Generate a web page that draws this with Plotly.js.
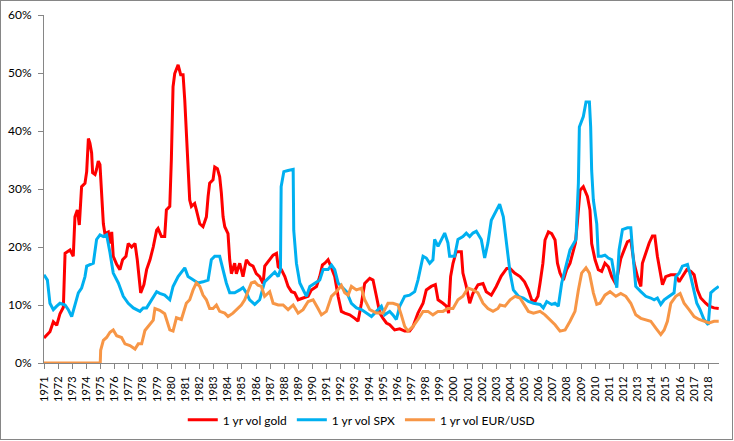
<!DOCTYPE html>
<html>
<head>
<meta charset="utf-8">
<script src="https://cdn.plot.ly/plotly-3.0.1.min.js"></script>
<style>
html,body{margin:0;padding:0;background:#fff;}
#wrap{position:relative;width:734px;height:441px;}
#chart{width:734px;height:441px;}
#frame{position:absolute;left:0;top:0;width:731px;height:438px;border:1px solid #868686;pointer-events:none;}
</style>
</head>
<body>
<div id="wrap"><div id="chart"></div><div id="frame"></div></div>
<script>
// [year, volatility %]
const goldSeries = [[1971.00,4.3],[1971.42,5.4],[1971.66,7.1],[1971.90,6.5],[1972.13,8.5],[1972.37,9.6],[1972.49,18.9],[1972.84,19.5],[1973.07,18.4],[1973.19,25.2],[1973.36,26.4],[1973.50,23.8],[1973.66,30.4],[1973.90,31.0],[1974.02,33.0],[1974.14,38.7],[1974.25,37.9],[1974.37,36.2],[1974.44,32.8],[1974.61,32.5],[1974.72,33.4],[1974.84,34.8],[1974.96,34.2],[1975.08,28.7],[1975.20,24.0],[1975.31,22.3],[1975.55,22.6],[1975.67,20.6],[1975.79,22.6],[1975.90,18.4],[1976.14,17.0],[1976.37,16.1],[1976.56,17.8],[1976.80,18.4],[1976.96,20.6],[1977.20,20.0],[1977.44,20.6],[1977.60,17.8],[1977.74,15.0],[1977.84,12.1],[1978.07,13.5],[1978.26,16.1],[1978.50,17.8],[1978.73,20.0],[1978.97,22.9],[1979.07,23.2],[1979.31,21.8],[1979.54,21.8],[1979.66,26.4],[1979.90,27.0],[1980.01,35.0],[1980.13,47.6],[1980.25,49.9],[1980.49,51.4],[1980.67,49.7],[1980.84,49.7],[1980.96,45.3],[1981.07,39.0],[1981.19,33.8],[1981.31,28.1],[1981.43,27.0],[1981.66,27.5],[1981.78,26.4],[1982.02,24.0],[1982.25,23.5],[1982.49,25.2],[1982.61,28.7],[1982.72,31.0],[1982.96,31.6],[1983.08,33.8],[1983.27,33.5],[1983.43,32.1],[1983.55,29.3],[1983.67,25.2],[1983.79,23.5],[1984.02,22.3],[1984.14,17.8],[1984.26,15.4],[1984.49,17.2],[1984.61,15.4],[1984.85,17.2],[1985.08,14.9],[1985.32,17.8],[1985.55,17.0],[1985.79,16.7],[1986.02,15.4],[1986.26,14.9],[1986.50,13.7],[1986.62,16.7],[1986.97,17.8],[1987.21,18.6],[1987.45,18.9],[1987.57,16.6],[1987.80,16.1],[1988.04,14.9],[1988.27,13.2],[1988.51,12.3],[1988.74,12.1],[1988.98,10.9],[1989.33,11.2],[1989.69,11.5],[1989.92,12.6],[1990.28,13.2],[1990.51,14.9],[1990.70,16.9],[1990.87,17.2],[1991.10,17.8],[1991.34,16.4],[1991.57,14.9],[1991.81,11.5],[1992.04,8.9],[1992.28,8.6],[1992.63,8.3],[1992.99,7.7],[1993.22,7.2],[1993.46,10.3],[1993.69,13.7],[1994.05,14.6],[1994.28,14.3],[1994.52,11.5],[1994.76,8.6],[1994.99,7.7],[1995.23,6.9],[1995.46,6.6],[1995.81,5.7],[1996.17,5.9],[1996.52,5.5],[1996.87,5.5],[1997.11,6.3],[1997.46,8.6],[1997.82,10.3],[1998.05,12.6],[1998.40,13.2],[1998.69,13.5],[1998.88,10.9],[1999.23,10.3],[1999.47,9.8],[1999.63,8.6],[1999.77,14.9],[1999.94,17.2],[2000.17,19.2],[2000.53,19.2],[2000.64,15.5],[2000.88,13.2],[2001.12,10.3],[2001.35,12.0],[2001.71,13.5],[2002.06,13.7],[2002.29,12.3],[2002.65,11.7],[2003.00,13.2],[2003.35,15.0],[2003.74,16.3],[2003.98,16.3],[2004.30,15.5],[2004.68,14.9],[2005.00,14.0],[2005.27,12.6],[2005.50,10.9],[2005.74,10.6],[2005.95,11.5],[2006.10,13.8],[2006.30,17.2],[2006.45,21.2],[2006.69,22.6],[2006.92,22.3],[2007.16,21.2],[2007.33,17.2],[2007.51,15.5],[2007.75,14.3],[2007.98,16.1],[2008.22,17.2],[2008.46,19.5],[2008.60,20.7],[2008.74,24.3],[2008.93,29.8],[2009.16,30.4],[2009.45,28.7],[2009.63,26.4],[2009.75,20.6],[2009.99,17.8],[2010.22,16.1],[2010.46,15.8],[2010.69,17.2],[2010.93,16.6],[2011.17,14.9],[2011.46,13.6],[2011.81,18.0],[2012.05,19.5],[2012.28,20.9],[2012.52,21.2],[2012.75,17.2],[2012.99,14.9],[2013.23,13.2],[2013.34,17.2],[2013.58,19.0],[2013.82,20.7],[2014.05,21.9],[2014.22,21.9],[2014.40,18.4],[2014.59,16.1],[2014.76,13.5],[2014.99,14.9],[2015.35,15.2],[2015.70,15.2],[2015.94,14.0],[2016.17,14.9],[2016.48,16.1],[2016.76,15.8],[2017.00,15.2],[2017.23,12.6],[2017.47,11.2],[2017.82,10.3],[2018.06,9.8],[2018.41,9.5],[2018.74,9.4]];

const spxSeries = [[1971.00,15.2],[1971.24,14.3],[1971.42,10.3],[1971.66,9.2],[1971.90,9.8],[1972.13,10.3],[1972.49,10.0],[1972.72,9.2],[1972.96,8.0],[1973.19,9.8],[1973.43,12.1],[1973.66,12.9],[1973.90,14.9],[1974.02,16.7],[1974.25,17.0],[1974.49,17.2],[1974.72,21.3],[1974.96,22.1],[1975.20,21.8],[1975.43,22.1],[1975.67,19.0],[1975.90,15.5],[1976.26,13.8],[1976.61,11.5],[1976.96,10.3],[1977.32,9.5],[1977.79,8.9],[1978.02,9.5],[1978.26,9.5],[1978.61,10.9],[1978.97,12.3],[1979.19,12.0],[1979.54,11.7],[1979.90,10.9],[1980.13,13.2],[1980.49,14.9],[1980.84,16.1],[1980.96,16.4],[1981.19,14.9],[1981.55,14.3],[1981.90,13.8],[1982.25,14.0],[1982.61,14.3],[1982.84,17.8],[1983.08,18.4],[1983.43,18.4],[1983.67,16.1],[1983.90,13.8],[1984.14,12.1],[1984.49,12.1],[1984.85,12.6],[1985.08,13.0],[1985.32,12.1],[1985.55,10.9],[1985.91,10.1],[1986.26,10.9],[1986.61,14.0],[1986.97,14.9],[1987.33,15.7],[1987.57,14.9],[1987.73,16.1],[1987.78,30.4],[1987.97,33.0],[1988.27,33.2],[1988.63,33.4],[1988.67,22.9],[1988.86,17.2],[1989.10,13.8],[1989.33,12.6],[1989.57,11.5],[1989.81,13.2],[1990.16,13.8],[1990.51,14.3],[1990.75,16.1],[1991.10,16.1],[1991.34,16.9],[1991.57,16.1],[1991.81,13.8],[1992.04,13.2],[1992.40,12.3],[1992.75,10.3],[1993.11,9.5],[1993.46,9.2],[1993.81,8.6],[1994.17,8.0],[1994.52,8.9],[1994.87,9.8],[1995.10,8.3],[1995.46,8.9],[1995.69,8.3],[1995.93,7.5],[1996.17,9.8],[1996.52,11.5],[1996.87,11.7],[1997.23,12.3],[1997.46,14.3],[1997.70,16.7],[1997.82,18.4],[1998.05,18.1],[1998.29,17.2],[1998.52,17.8],[1998.64,21.3],[1998.88,20.1],[1999.11,21.3],[1999.35,22.4],[1999.58,20.7],[1999.70,18.4],[2000.05,18.4],[2000.29,21.3],[2000.64,21.8],[2000.88,22.4],[2001.12,21.8],[2001.35,22.4],[2001.59,22.7],[2001.94,21.3],[2002.18,18.1],[2002.41,20.7],[2002.65,24.6],[2002.88,25.7],[2003.24,27.4],[2003.50,25.2],[2003.74,20.1],[2003.98,15.5],[2004.21,12.6],[2004.57,11.5],[2004.92,11.2],[2005.27,10.6],[2005.63,10.3],[2006.10,10.1],[2006.33,9.5],[2006.57,10.6],[2006.92,10.1],[2007.16,10.3],[2007.39,9.8],[2007.63,13.8],[2007.87,16.1],[2008.22,19.5],[2008.50,20.7],[2008.64,21.3],[2008.81,31.0],[2008.88,40.7],[2009.16,42.5],[2009.35,45.0],[2009.59,45.0],[2009.68,40.7],[2009.75,33.2],[2009.87,28.1],[2010.11,24.0],[2010.22,18.4],[2010.46,18.4],[2010.69,18.6],[2010.93,18.1],[2011.17,17.8],[2011.40,14.5],[2011.53,13.0],[2011.69,19.5],[2011.93,23.0],[2012.28,23.3],[2012.52,23.3],[2012.64,19.5],[2012.87,13.2],[2013.23,12.3],[2013.58,11.5],[2013.93,11.2],[2014.17,10.9],[2014.40,11.2],[2014.64,10.1],[2014.88,10.9],[2015.23,11.5],[2015.58,12.1],[2015.70,14.9],[2015.94,15.5],[2016.17,16.7],[2016.53,17.0],[2016.76,14.9],[2017.00,12.6],[2017.19,10.3],[2017.42,9.2],[2017.70,7.5],[2018.00,6.6],[2018.18,12.1],[2018.41,12.6],[2018.74,13.2]];

const eurusdSeries = [[1971.00,0],[1974.98,0],[1975.01,2.2],[1975.20,3.9],[1975.43,4.4],[1975.67,5.3],[1975.90,5.7],[1976.14,4.7],[1976.49,4.4],[1976.73,3.3],[1977.08,3.0],[1977.44,2.4],[1977.67,3.3],[1977.91,3.3],[1978.14,5.6],[1978.50,6.8],[1978.73,7.4],[1978.85,9.4],[1979.19,9.1],[1979.54,8.5],[1979.90,5.7],[1980.13,5.5],[1980.37,7.8],[1980.72,7.5],[1981.07,10.3],[1981.31,10.9],[1981.55,12.6],[1981.78,13.8],[1982.02,13.2],[1982.25,11.7],[1982.49,10.9],[1982.72,9.4],[1982.96,9.4],[1983.20,10.0],[1983.43,8.9],[1983.79,8.6],[1984.02,8.0],[1984.37,8.6],[1984.73,9.4],[1984.96,10.0],[1985.20,10.9],[1985.44,12.3],[1985.67,13.8],[1985.91,14.0],[1986.14,13.4],[1986.38,13.2],[1986.61,11.5],[1986.97,12.3],[1987.21,10.3],[1987.57,10.0],[1987.92,10.0],[1988.27,9.2],[1988.63,10.0],[1988.98,8.6],[1989.33,9.2],[1989.69,10.6],[1990.04,10.9],[1990.39,9.4],[1990.63,8.3],[1990.98,8.9],[1991.34,11.5],[1991.69,12.3],[1992.04,13.4],[1992.28,12.1],[1992.52,11.7],[1992.75,13.2],[1993.11,12.6],[1993.46,12.9],[1993.69,10.9],[1994.05,9.2],[1994.52,8.6],[1994.99,8.6],[1995.34,10.3],[1995.69,10.3],[1996.05,10.0],[1996.28,8.3],[1996.52,6.3],[1996.75,5.5],[1997.11,6.3],[1997.46,7.5],[1997.82,8.9],[1998.17,8.9],[1998.52,8.3],[1998.88,8.9],[1999.23,8.9],[1999.58,9.4],[1999.94,9.4],[2000.29,10.9],[2000.64,11.5],[2001.00,12.9],[2001.35,12.6],[2001.70,12.1],[2002.06,10.3],[2002.41,9.4],[2002.77,8.9],[2003.12,9.4],[2003.27,10.0],[2003.62,9.8],[2003.98,10.9],[2004.33,11.5],[2004.68,11.2],[2005.04,9.8],[2005.27,8.9],[2005.63,8.6],[2006.10,8.9],[2006.45,8.3],[2006.81,7.5],[2007.16,6.6],[2007.51,5.5],[2007.87,5.7],[2008.22,7.2],[2008.57,8.9],[2008.81,12.6],[2009.04,15.5],[2009.35,16.4],[2009.59,15.5],[2009.87,12.1],[2010.11,10.1],[2010.34,10.3],[2010.69,11.7],[2011.05,12.3],[2011.46,11.5],[2011.81,12.0],[2012.17,11.5],[2012.52,10.3],[2012.87,8.3],[2013.23,7.7],[2013.58,7.5],[2013.93,7.2],[2014.29,6.0],[2014.64,4.9],[2014.88,5.7],[2015.11,7.2],[2015.35,10.3],[2015.70,11.5],[2016.01,12.0],[2016.29,10.3],[2016.64,9.2],[2017.00,8.0],[2017.35,7.5],[2017.70,7.2],[2018.06,6.9],[2018.41,7.2],[2018.74,7.2]];

const seriesNames = ['1 yr vol gold', '1 yr vol SPX', '1 yr vol EUR/USD'];
const seriesColors = ['#FF0000', '#00B0F0', '#F79646'];
const yearTicks = [];
for (let y = 1971; y <= 2018; y++) yearTicks.push(y);
const yTicks = [0, 10, 20, 30, 40, 50, 60];

const allSeries = [goldSeries, spxSeries, eurusdSeries];
const traces = allSeries.map((s, i) => ({
  type: 'scatter', mode: 'lines',
  x: s.map(p => p[0]), y: s.map(p => p[1]),
  name: seriesNames[i],
  line: {color: seriesColors[i], width: 3},
  hoverinfo: 'x+y'
}));

const layout = {
  width: 734, height: 441,
  margin: {l: 44, r: 15, t: 15, b: 78},
  paper_bgcolor: '#fff', plot_bgcolor: '#fff',
  font: {family: 'Lato, "Open Sans", sans-serif', color: '#000', size: 12},
  showlegend: true,
  legend: {
    orientation: 'h', xref: 'container', yref: 'container',
    x: 0.249, xanchor: 'left', y: 0.048, yanchor: 'middle',
    font: {size: 12, color: '#000'}, traceorder: 'normal'
  },
  xaxis: {
    type: 'linear', range: [1971, 2018.76], automargin: false,
    tickmode: 'array', tickvals: yearTicks, ticktext: yearTicks.map(String),
    tickangle: -90, ticks: 'outside', ticklen: 5, tickcolor: '#868686',
    showline: true, linecolor: '#868686', linewidth: 1,
    showgrid: false, zeroline: false,
    tickfont: {size: 11, color: '#000'}, ticklabelstandoff: 3
  },
  yaxis: {
    range: [0, 60], automargin: false, tickmode: 'array', tickvals: yTicks, ticktext: yTicks.map(v => v + '%'),
    ticks: 'outside', ticklen: 5, tickcolor: '#868686',
    showline: true, linecolor: '#868686', linewidth: 1,
    showgrid: false, zeroline: false,
    tickfont: {size: 12, color: '#000'}, ticklabelstandoff: 4
  }
};

Plotly.newPlot('chart', traces, layout, {displayModeBar: false, staticPlot: true});
</script>
</body>
</html>
